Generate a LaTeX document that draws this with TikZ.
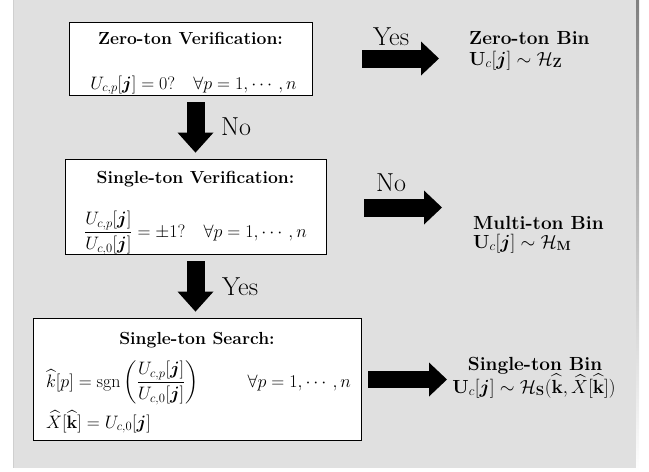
\RequirePackage{fix-cm}
\documentclass[tikz,border=0pt]{standalone}
\usepackage{amsmath,amssymb}
\usetikzlibrary{arrows.meta}
\definecolor{panel}{HTML}{E0E0E0}
\definecolor{shade}{HTML}{BDBDBD}
\definecolor{panelline}{HTML}{CFCFCF}
\tikzset{
  boxnode/.style={draw=black, fill=white, line width=0.8pt, inner sep=0pt},
  titletext/.style={font=\fontsize{17.5}{20}\selectfont\bfseries, inner sep=0pt, anchor=base},
  boxtext/.style={font=\fontsize{18}{21}\selectfont, inner sep=0pt, anchor=base},
  boxleft/.style={font=\fontsize{18}{21}\selectfont, inner sep=0pt, anchor=base west},
  bintext/.style={font=\fontsize{19}{22}\selectfont, inner sep=0pt},
  lbl/.style={font=\fontsize{26}{28}\selectfont, inner sep=0pt, anchor=base west},
  downarrow/.style={line width=18pt, -{Triangle[length=20pt,width=36pt,line width=0pt]}},
  rightarrow/.style={line width=18pt, -{Triangle[length=18pt,width=34pt,line width=0pt]}}
}
\begin{document}
\begin{tikzpicture}[x=1pt,y=-1pt]
\useasboundingbox (0,0) rectangle (649,472);
% panel with shadow
\fill[shade] (15,0) rectangle (639,471);
\fill[panel] (13,0) rectangle (636,468);
\draw[panelline, line width=0.8pt] (13.4,0) -- (13.4,468);

% boxes
\node[boxnode, minimum width=243pt, minimum height=73pt] (zbox) at (190.5,58.5) {};
\node[boxnode, minimum width=261pt, minimum height=95pt] (sbox) at (195.5,206.5) {};
\node[boxnode, minimum width=328pt, minimum height=122pt] (search) at (197,379) {};

% box texts
\node[titletext] (zt) at (190.5,44.5) {Zero-ton Verification:};
\node[boxtext] (ze) at (193.5,89) {$U_{c,p}[\boldsymbol{j}] = 0? \quad \forall p = 1, \cdots, n$};
\node[titletext] (st) at (195.5,183) {Single-ton Verification:};
\node[boxtext] (se) at (195.5,237) {$\dfrac{U_{c,p}[\boldsymbol{j}]}{U_{c,0}[\boldsymbol{j}]} = \pm 1? \quad \forall p = 1,\cdots,n$};
\node[titletext] (qt) at (197,344) {Single-ton Search:};
\node[boxleft] (q1) at (46,387) {$\widehat{k}[p] = \operatorname{sgn}\left(\dfrac{U_{c,p}[\boldsymbol{j}]}{U_{c,0}[\boldsymbol{j}]}\right) \qquad\;\; \forall p = 1,\cdots,n$};
\node[boxleft] (q2) at (46,428) {$\widehat{X}[\widehat{\mathbf{k}}] = U_{c,0}[\boldsymbol{j}]$};

% bin texts
\node[bintext, anchor=base west] (zb1) at (469,44) {\bfseries Zero-ton Bin};
\node[bintext, anchor=base west] (zb2) at (469,65) {$\mathbf{U}_c[\boldsymbol{j}] \sim \mathcal{H}_{\mathbf{Z}}$};
\node[bintext, anchor=base west] (mb1) at (473,229) {\bfseries Multi-ton Bin};
\node[bintext, anchor=base west] (mb2) at (473,248) {$\mathbf{U}_c[\boldsymbol{j}] \sim \mathcal{H}_{\mathbf{M}}$};
\node[bintext, anchor=base] (sb1) at (535,370) {\bfseries Single-ton Bin};
\node[bintext, anchor=base] (sb2) at (534,393) {$\mathbf{U}_c[\boldsymbol{j}] \sim \mathcal{H}_{\mathbf{S}}(\widehat{\mathbf{k}}, \widehat{X}[\widehat{\mathbf{k}}])$};

% labels
\node[lbl] (no1) at (221,135) {No};
\node[lbl] (yes1) at (222,295) {Yes};
\node[lbl] (yes2) at (373,45) {Yes};
\node[lbl] (no2) at (376,191) {No};

% arrow tips (free ends)
\coordinate (ztip) at (439,58.5);
\coordinate (mtip) at (442,207.5);
\coordinate (stip) at (447,379.5);

% down arrows
\draw[downarrow, shorten <=7pt, shorten >=6pt] (sbox.north |- zbox.south) -- (sbox.north);
\draw[downarrow, shorten <=7pt, shorten >=6pt] (sbox.south) -- (search.north -| sbox.south);
% right arrows
\draw[rightarrow, shorten <=50pt] (zbox.east) -- (ztip);
\draw[rightarrow, shorten <=38pt] (sbox.east |- mtip) -- (mtip);
\draw[rightarrow, line width=17pt, shorten <=7pt] (search.east |- stip) -- (stip);
\end{tikzpicture}
\end{document}
